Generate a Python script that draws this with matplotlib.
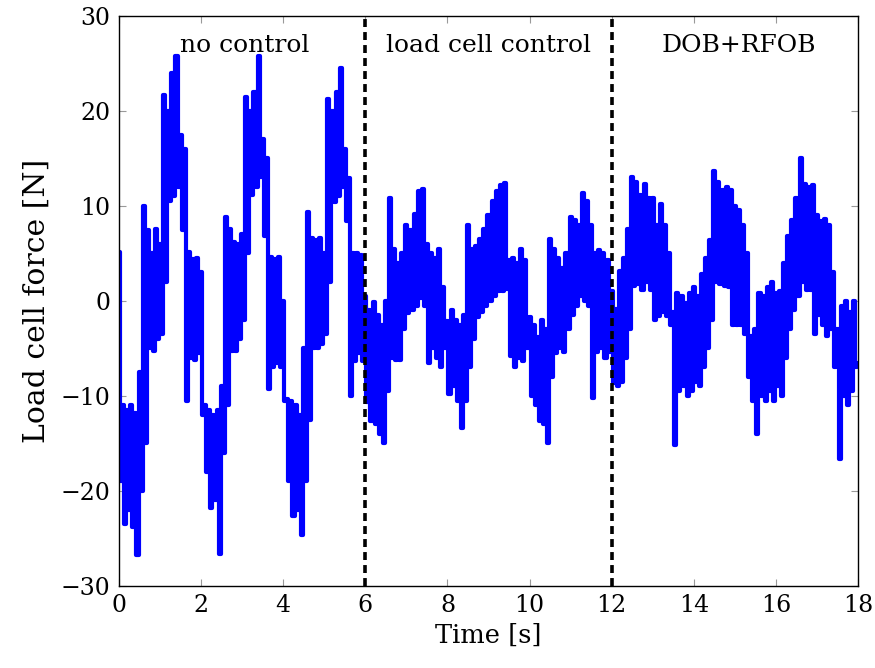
import numpy as np
import matplotlib.pyplot as plt

plt.rcParams['font.family'] = ['DejaVu Serif']

force_no_control = [
    5.2, -19, -11, -23.5, -11.5, -22, -11, -23.8, -11.8, -26.7,
    -7.5, -20, 10, -15, 7.5, -5, 5, -5.3, 7.6, -4,
    6, -3.5, 21.7, 2, 20, 10.5, 24, 11, 25.8, 12,
    17.5, 7.5, 16, -10.5, 5.2, -6, 4.4, -6.2, 4.5, -5.5,
    3, -12, -11, -18, -11.5, -21.8, -12, -21, -11.5, -26.6,
    -9, -16, 8.8, -11, 7.6, -5.3, 6.2, -5.3, 6, -4,
    7, -2, 21.5, 5, 20, 11.2, 22, 12, 25.8, 13,
    17, 6.8, 15, -9.3, 4.6, -6.9, 4.4, -6.5, 4.6, -7,
    0, -10.5, -10.3, -19, -10.5, -22.6, -11, -22, -12, -24.6,
    -5, -19, 9.4, -12.5, 6.6, -5, 6.4, -5, 6.6, -4.5,
    5, -3.5, 21.3, 2, 20, 10.4, 22, 11, 24.5, 12,
    16, 8.4, 12.9, -10, 5, -6.3, 5, -5.5, 4.8, -6.3,
]
force_load_cell = [
    0.5, -10.6, -1, -12.6, -0.1, -13, -1.5, -14, -2.5, -15,
    0, -9.5, 10.8, -6, 5.5, -6.2, 4, -6.2, 5, -3,
    8, -1.3, 7.5, -1, 9.2, -0.5, 11.6, 0.3, 11.8, -0.5,
    6, -6.5, 5.1, -5, 4.5, -6, 5.5, -7, 1.5, -5,
    -2.1, -9.8, -1, -9, -2, -10.5, -2.5, -13.4, -1.5, -10.5,
    8, -7, 5.5, -4, 5.8, -1.7, 6.5, -1.2, 7.6, -0.5,
    9, 0, 10.5, 0.5, 11.6, 1, 12.2, 1, 12.4, 1.3,
    4.3, -5.8, 4.5, -7, 4, -6, 5.5, -6.3, 4.3, -5,
    -1.7, -10, -2.5, -11, -3.8, -12.6, -2, -13, -3, -15,
    6.5, -8, 5.5, -5.5, 4.5, -5, 3.5, -5.4, 5, -3,
    8.8, -1.5, 8.5, -0.5, 8, 0.5, 11.4, 0, 10.5, -0.5,
    8, -10.2, 5.1, -5.4, 5.4, -5, 5, -6, 4.3, -5.4,
]
force_dob_rfob = [
    1.1, -8.6, -0.8, -8.9, 3.2, -8.5, 4.5, -6, 7.6, -3,
    13, 1.6, 12.5, 1.8, 11.2, 1.2, 12.3, 2, 10.8, 1.2,
    10.8, -2, 8, -1.6, 10.2, -1.2, 8, -1.6, 5, -2.5,
    -1.2, -15.2, 0.8, -9.5, 0.5, -9, -0.2, -10, 0.8, -9.5,
    1.5, -8.5, 0.5, -9, 2.8, -7, 4.5, -5, 6.4, -2,
    13.7, 2, 12.5, 1.8, 11.7, 1.6, 12, 1.5, 11.7, -2.5,
    10, -2.5, 9.6, -2.5, 8, -3.5, 5, -8, -3.7, -10.5,
    -3, -14, 0.8, -10, 0.5, -10.5, 1.5, -9.5, 2, -10.5,
    0.8, -9, 1, -10, 4, -6, 6.8, -3, 8.5, -1,
    10.8, 0.5, 15, 2, 12.3, 1.2, 12, 1.2, 12.2, -3.5,
    9, -1.5, 8.4, -2.5, 8.6, -3.7, 8, -3, 3, -7,
    -3, -16.6, -0.5, -10, 0, -11, -1.2, -9.5, 0, -7,
    -6.5,
]
force = force_no_control + force_load_cell + force_dob_rfob
dt = 0.05
time = np.arange(len(force)) * dt

switch_times = [6, 12]
phase_labels = ['no control', 'load cell control', 'DOB+RFOB']
label_x = [3.07, 9.0, 15.1]

fig = plt.figure(figsize=(8.75, 6.68), dpi=100)
ax = fig.add_axes([0.136, 0.1228, 0.8446, 0.8533])

ax.plot(time, force, color='#0000ff', linewidth=3.0, drawstyle='steps-mid')
for ts in switch_times:
    ax.axvline(ts, color='black', linewidth=2.6, linestyle=(0, (2.2, 1.4)))

for lx, lab in zip(label_x, phase_labels):
    ax.text(lx, 26.9, lab, ha='center', va='center', fontsize=18)

ax.set_xlim(0, 18)
ax.set_ylim(-30, 30)
ax.set_xticks(range(0, 19, 2))
ax.set_yticks(range(-30, 31, 10))
ax.tick_params(direction='in', top=True, right=True, length=5,
               color='#999999', labelsize=17, pad=6)
for s in ax.spines.values():
    s.set_linewidth(1.0)
ax.set_xlabel('Time [s]', fontsize=18.5, labelpad=4)
ax.set_ylabel('Load cell force [N]', fontsize=21.5, labelpad=7)

fig.savefig('out.png', dpi=100)
